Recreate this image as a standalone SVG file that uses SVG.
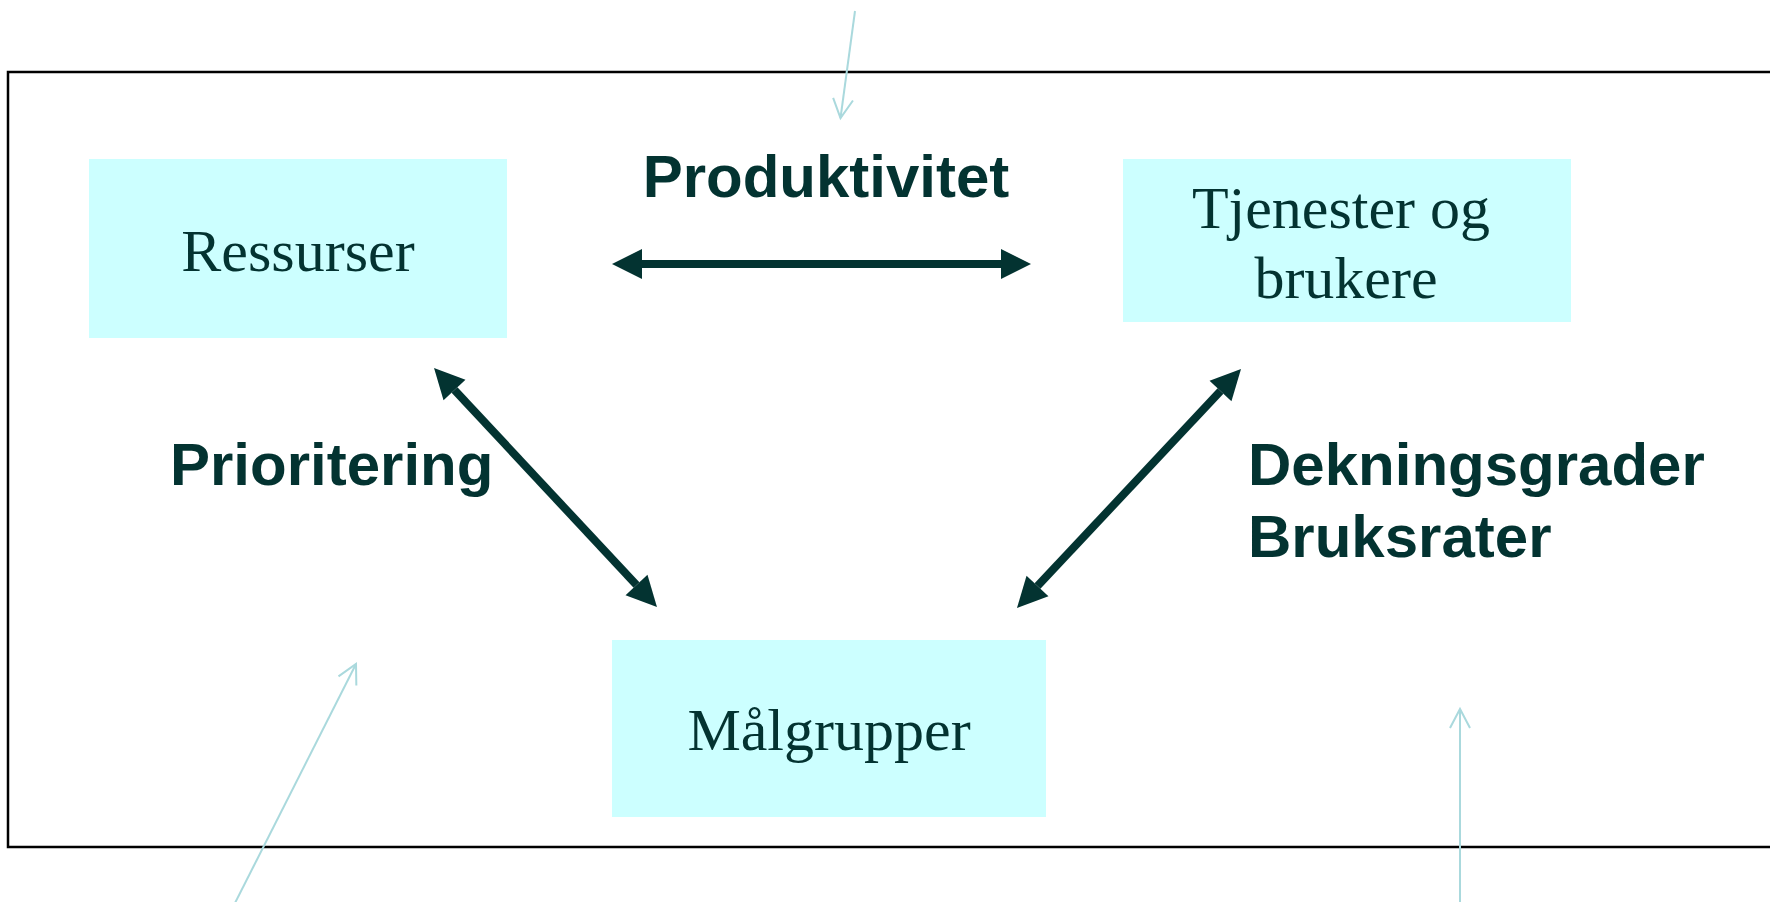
<svg xmlns="http://www.w3.org/2000/svg" width="1770" height="902" viewBox="0 0 1770 902">
  <style>
    .box { fill: #ccffff; }
    .serif { font-family: "Liberation Serif", "Times New Roman", serif; font-size: 60px; fill: #033331; text-anchor: middle; }
    .lbl { font-family: "Liberation Sans", Arial, sans-serif; font-size: 60px; font-weight: bold; fill: #033331; }
    .dark { stroke: #033331; stroke-width: 8; fill: none; marker-start: url(#headDark); marker-end: url(#headDark); }
    .light { stroke: #aad9dd; stroke-width: 2; fill: none; marker-end: url(#headLight); }
  </style>
  <defs>
    <marker id="headDark" markerUnits="userSpaceOnUse" viewBox="0 -16 31 32" refX="0" refY="0" markerWidth="31" markerHeight="32" orient="auto-start-reverse" overflow="visible">
      <path d="M0,-15 L30,0 L0,15 Z" fill="#033331"/>
    </marker>
    <marker id="headLight" markerUnits="userSpaceOnUse" viewBox="-20 -12 22 24" refX="0" refY="0" markerWidth="22" markerHeight="24" orient="auto" overflow="visible">
      <path d="M-19,-10 L0,0 L-19,10" fill="none" stroke="#aad9dd" stroke-width="2"/>
    </marker>
  </defs>
  <rect width="1770" height="902" fill="#ffffff"/>
  <path id="frame" d="M1780,72 H8 V847 H1780" fill="none" stroke="#000" stroke-width="2.5"/>

  <g id="node-ressurser">
    <rect class="box" x="89" y="159" width="418" height="179"/>
    <text class="serif" x="298" y="271">Ressurser</text>
  </g>
  <g id="node-tjenester">
    <rect class="box" x="1123" y="159" width="448" height="163"/>
    <text class="serif" x="1341" y="228">Tjenester og</text>
    <text class="serif" x="1346" y="298">brukere</text>
  </g>
  <g id="node-malgrupper">
    <rect class="box" x="612" y="640" width="434" height="177"/>
    <text class="serif" x="829" y="750">Målgrupper</text>
  </g>

  <g id="connectors">
    <line class="dark" x1="642" y1="264" x2="1001" y2="264"/>
    <line class="dark" x1="454.5" y1="389.9" x2="636.5" y2="585.1"/>
    <line class="dark" x1="1220.5" y1="390.9" x2="1037.5" y2="586.1"/>
    <line class="light" x1="855" y1="11" x2="840.5" y2="118"/>
    <line class="light" x1="234" y1="905" x2="356" y2="664"/>
    <line class="light" x1="1460" y1="905" x2="1460" y2="709"/>
  </g>

  <g id="labels">
    <text class="lbl" x="826" y="197" text-anchor="middle">Produktivitet</text>
    <text class="lbl" x="170" y="485">Prioritering</text>
    <text class="lbl" x="1248" y="485">Dekningsgrader</text>
    <text class="lbl" x="1248" y="557">Bruksrater</text>
  </g>
</svg>
